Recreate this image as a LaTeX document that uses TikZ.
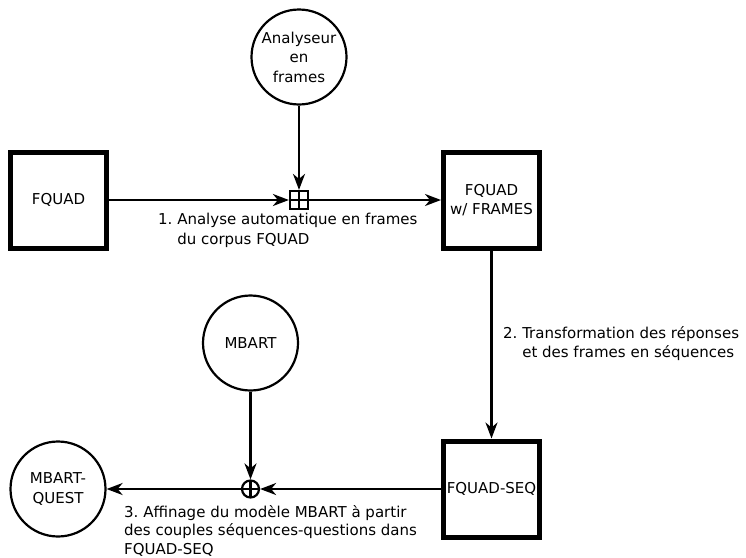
\documentclass[tikz,border=0pt]{standalone}
\usepackage{fontspec}
\setmainfont{DejaVu Sans}
\usetikzlibrary{arrows.meta}
\frenchspacing

\tikzset{
  bloc/.style={draw, line width=5pt, minimum width=96pt, minimum height=96pt,
    inner sep=0pt, align=center},
  modele/.style={draw, circle, line width=2.2pt, minimum size=95pt, inner sep=0pt,
    align=center},
  jonction/.style={draw, line width=2.2pt, minimum size=18pt, inner sep=0pt,
    path picture={
      \draw[line width=2.2pt] (path picture bounding box.north) -- (path picture bounding box.south);
      \draw[line width=2.2pt] (path picture bounding box.west) -- (path picture bounding box.east);
    }},
  somme/.style={jonction, circle, minimum size=17pt},
  fleche/.style={line width=2.2pt, -{Stealth[length=16pt, width=12pt, inset=5pt]}},
  etiq/.style={anchor=north west, align=left, inner sep=0pt}
}

\begin{document}
\begin{tikzpicture}[x=1pt, y=-1pt, font=\fontsize{15}{19.5}\selectfont]
  \useasboundingbox (0,0) rectangle (746,557);

  % sources et modeles
  \node[bloc] (fquad) at (58.5,200) {FQUAD};
  \node[bloc] (frames) at (491.5,200) {FQUAD\\w/ FRAMES};
  \node[bloc] (seq) at (491.5,489) {FQUAD-SEQ};
  \node[modele] (analyseur) at (299,57) {Analyseur\\en\\frames};
  \node[modele] (mbart) at (250.5,343) {MBART};
  \node[modele] (quest) at (58,489) {MBART-\\QUEST};

  % combinaisons
  \node[jonction] (j1) at (299,200) {};
  \node[somme] (j2) at (250.5,489) {};

  % etapes
  \draw[fleche] (fquad) -- (j1);
  \draw[fleche] (analyseur) -- (j1);
  \draw[fleche] (j1) -- (frames);
  \draw[fleche] (frames) -- (seq);
  \draw[fleche] (seq) -- (j2);
  \draw[fleche] (mbart) -- (j2);
  \draw[fleche] (j2) -- (quest);

  \node[etiq] (etape1) at (158,213) {1. Analyse automatique en frames\\\hphantom{1. }du corpus FQUAD};
  \node[etiq] (etape2) at (503,326) {2. Transformation des réponses\\\hphantom{2. }et des frames en séquences};
  \node[etiq, font=\fontsize{15}{18.5}\selectfont] (etape3) at (124,505) {3. Affinage du modèle MBART à partir\\des couples séquences-questions dans\\FQUAD-SEQ};
\end{tikzpicture}
\end{document}
